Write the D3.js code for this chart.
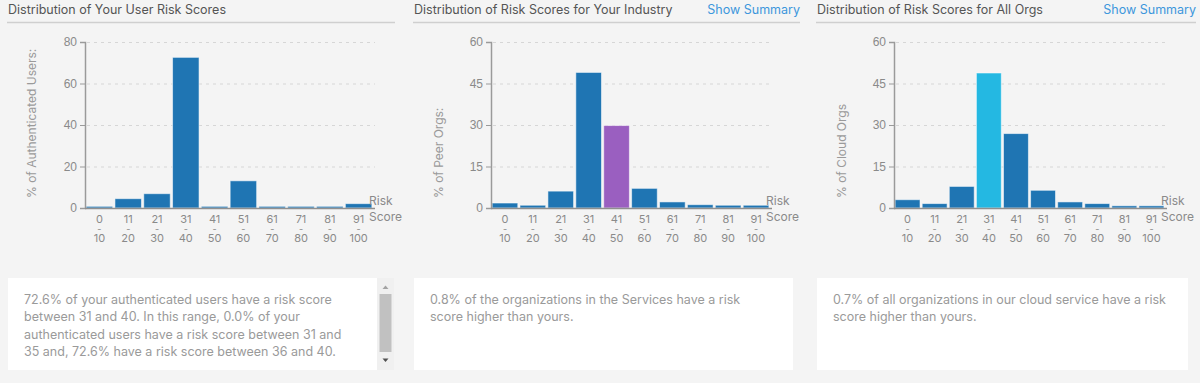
<!DOCTYPE html>
<html>
<head>
<meta charset="utf-8">
<script src="https://cdn.jsdelivr.net/npm/d3@7"></script>
<style>
  html, body { margin: 0; padding: 0; background: #f4f4f4; }
  svg { display: block; font-family: Inter, "Noto Sans", sans-serif; }
  .axis path, .axis line { stroke: #9a9a9a; }
  .axis text { fill: #8a8a8a; font-size: 12px; }
</style>
</head>
<body>
<svg id="chart" width="1200" height="383"></svg>
<script>
// risk score bins
const binLow = ['0', '11', '21', '31', '41', '51', '61', '71', '81', '91'];
const binHigh = ['10', '20', '30', '40', '50', '60', '70', '80', '90', '100'];

// % per bin
const userPct = [0.8, 4.5, 6.9, 72.6, 0.8, 13.1, 0.8, 0.8, 0.8, 2.1];
const industryPct = [1.8, 1.0, 6.1, 49.0, 29.8, 7.1, 2.2, 1.2, 1.0, 1.0];
const allOrgsPct = [3.0, 1.6, 7.8, 48.8, 26.9, 6.4, 2.2, 1.6, 0.8, 0.8];

const userTicks = [0, 20, 40, 60, 80];
const orgTicks = [0, 15, 30, 45, 60];

const titles = [
    'Distribution of Your User Risk Scores',
    'Distribution of Risk Scores for Your Industry',
    'Distribution of Risk Scores for All Orgs'
];
const yLabels = ['% of Authenticated Users:', '% of Peer Orgs:', '% of Cloud Orgs'];
const summaries = [
    ['72.6% of your authenticated users have a risk score',
     'between 31 and 40. In this range, 0.0% of your',
     'authenticated users have a risk score between 31 and',
     '35 and, 72.6% have a risk score between 36 and 40.'],
    ['0.8% of the organizations in the Services have a risk',
     'score higher than yours.'],
    ['0.7% of all organizations in our cloud service have a risk',
     'score higher than yours.']
];

const panels = [
    { values: userPct, ticks: userTicks, x0: 7, x1: 395, axisX: 85, right: 373, labelX: 32,
      box: [8, 377], textX: 24, highlight: -1, hlColor: null, showSummary: false, scroll: true },
    { values: industryPct, ticks: orgTicks, x0: 413, x1: 800, axisX: 491, right: 770, labelX: 439,
      box: [414, 793], textX: 430, highlight: 4, hlColor: '#9a5fc0', showSummary: true, scroll: false },
    { values: allOrgsPct, ticks: orgTicks, x0: 816, x1: 1196, axisX: 894, right: 1165, labelX: 842,
      box: [817, 1188], textX: 833, highlight: 3, hlColor: '#24b8e2', showSummary: true, scroll: false }
];

const barColor = '#1f75b3';
const yTop = 42, yBottom = 208;

const svg = d3.select('#chart');

panels.forEach((p, i) => {
    const g = svg.append('g');

    // header
    g.append('text')
        .attr('x', p.x0 + 1).attr('y', 14)
        .attr('fill', '#555').style('font-size', '12.5px')
        .text(titles[i]);
    if (p.showSummary) {
        g.append('text')
            .attr('x', p.x1).attr('y', 14)
            .attr('text-anchor', 'end')
            .attr('fill', '#3d97dc').style('font-size', '12.5px')
            .text('Show Summary');
    }
    g.append('line')
        .attr('x1', p.x0).attr('x2', p.x1)
        .attr('y1', 22.5).attr('y2', 22.5)
        .attr('stroke', '#cfcfcf').attr('stroke-width', 1.5);

    const x = d3.scaleBand()
        .domain(d3.range(binLow.length))
        .range([p.axisX, p.right])
        .paddingInner(0.08)
        .paddingOuter(0.04);
    const y = d3.scaleLinear()
        .domain([0, d3.max(p.ticks)])
        .range([yBottom, yTop]);

    // dotted grid
    g.selectAll('.grid')
        .data(p.ticks.filter(t => t > 0))
        .enter().append('line')
        .attr('x1', p.axisX + 2).attr('x2', p.right + 2)
        .attr('y1', d => y(d) + 0.5).attr('y2', d => y(d) + 0.5)
        .attr('stroke', '#d6d6d6')
        .attr('stroke-dasharray', '3,4');

    // bars
    g.selectAll('.bar')
        .data(p.values)
        .enter().append('rect')
        .attr('x', (d, j) => x(j))
        .attr('width', x.bandwidth())
        .attr('y', d => y(d))
        .attr('height', d => yBottom - y(d))
        .attr('fill', (d, j) => j === p.highlight ? p.hlColor : barColor)
        .attr('stroke', 'rgba(255,255,255,0.55)')
        .attr('stroke-width', 1);

    // y axis
    const yAxis = g.append('g')
        .attr('class', 'axis')
        .attr('transform', `translate(${p.axisX},0)`)
        .call(d3.axisLeft(y).tickValues(p.ticks).tickSize(5).tickPadding(3));
    yAxis.select('.domain').attr('stroke-width', 1.5);

    // x baseline
    g.append('line')
        .attr('x1', p.axisX).attr('x2', p.right + 2)
        .attr('y1', yBottom + 0.5).attr('y2', yBottom + 0.5)
        .attr('stroke', '#8f8f8f').attr('stroke-width', 1.5);

    // x tick labels: low / - / high
    const xl = g.selectAll('.xlab')
        .data(binLow)
        .enter().append('text')
        .attr('text-anchor', 'middle')
        .attr('fill', '#8a8a8a')
        .style('font-size', '11px');
    xl.append('tspan')
        .attr('x', (d, j) => x(j) + x.bandwidth() / 2).attr('y', 222.5)
        .text(d => d);
    xl.append('tspan')
        .attr('x', (d, j) => x(j) + x.bandwidth() / 2).attr('y', 231.5)
        .style('font-size', '9px')
        .text('-');
    xl.append('tspan')
        .attr('x', (d, j) => x(j) + x.bandwidth() / 2).attr('y', 241.5)
        .text((d, j) => binHigh[j]);

    // x axis title
    const xt = g.append('text').attr('fill', '#8a8a8a').style('font-size', '12px');
    xt.append('tspan').attr('x', p.right - 4).attr('y', 205).text('Risk');
    xt.append('tspan').attr('x', p.right - 4).attr('y', 221).text('Score');

    // y axis title
    g.append('text')
        .attr('transform', `translate(${p.labelX + 4},198) rotate(-90)`)
        .attr('fill', '#9a9a9a')
        .style('font-size', '12px')
        .text(yLabels[i]);

    // summary box
    g.append('rect')
        .attr('x', p.box[0]).attr('y', 278)
        .attr('width', p.box[1] - p.box[0]).attr('height', 92)
        .attr('fill', '#fff');
    g.append('text')
        .attr('fill', '#9a9a9a')
        .style('font-size', '12.5px')
        .selectAll('tspan')
        .data(summaries[i])
        .enter().append('tspan')
        .attr('x', p.textX)
        .attr('y', (d, j) => 303.5 + j * 17.5)
        .text(d => d);

    if (p.scroll) {
        const sx = p.box[1];
        g.append('rect').attr('x', sx).attr('y', 278).attr('width', 17).attr('height', 92).attr('fill', '#f0f0f0');
        g.append('rect').attr('x', sx + 2.5).attr('y', 294).attr('width', 12).attr('height', 58).attr('fill', '#c1c1c1');
        g.append('path')
            .attr('d', `M${sx + 5.5},289 L${sx + 11.5},289 L${sx + 8.5},285.5 Z`)
            .attr('fill', '#a3a3a3');
        g.append('path')
            .attr('d', `M${sx + 5.5},358.5 L${sx + 11.5},358.5 L${sx + 8.5},362 Z`)
            .attr('fill', '#505050');
    }
});
</script>
</body>
</html>
